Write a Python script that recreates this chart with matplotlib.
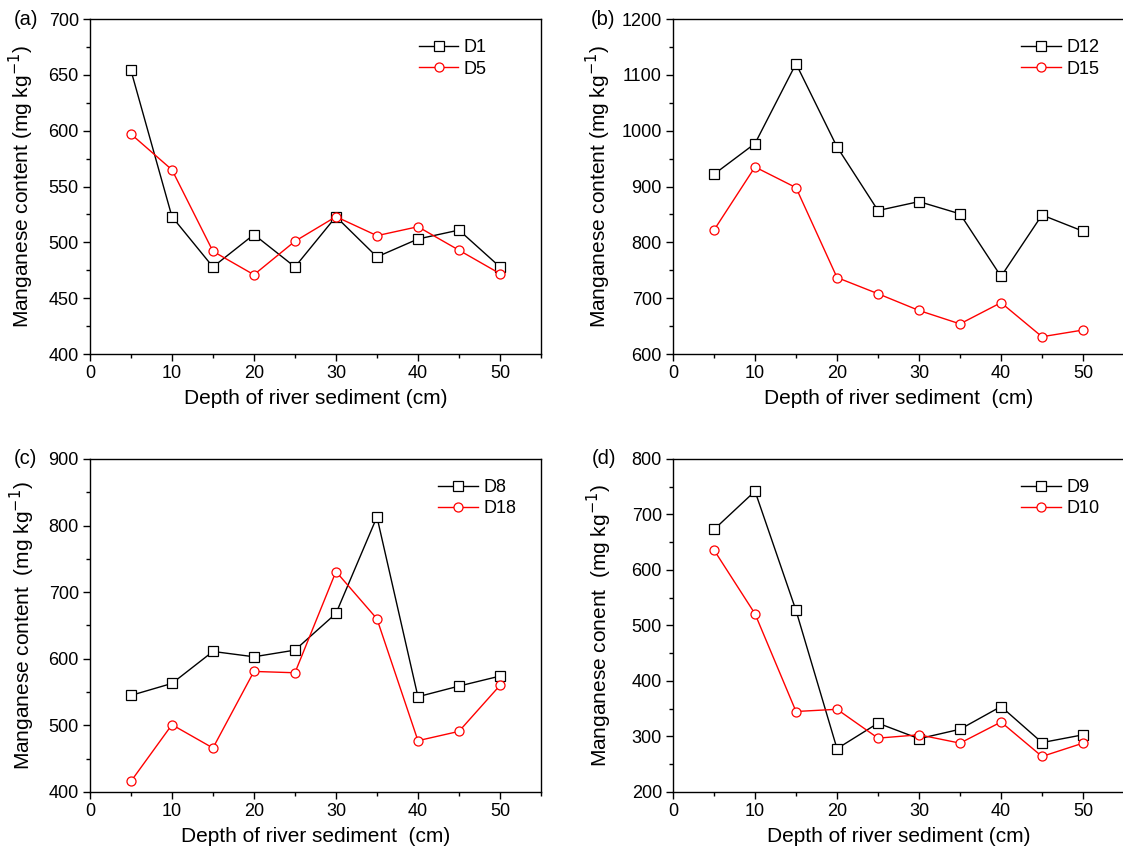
import matplotlib
matplotlib.use("Agg")
import matplotlib.pyplot as plt
from matplotlib.ticker import MultipleLocator

plt.rcParams['font.family'] = ['Liberation Sans', 'DejaVu Sans']

depth = [5, 10, 15, 20, 25, 30, 35, 40, 45, 50]

d1 = [654, 523, 478, 507, 478, 523, 487, 503, 511, 478]
d5 = [597, 565, 492, 471, 501, 523, 506, 514, 493, 472]
d12 = [922, 977, 1120, 971, 857, 873, 851, 739, 849, 820]
d15 = [822, 935, 898, 737, 708, 678, 654, 692, 631, 643]
d8 = [545, 563, 611, 603, 613, 668, 813, 543, 559, 574]
d18 = [416, 501, 466, 581, 579, 731, 660, 477, 491, 560]
d9 = [673, 742, 527, 278, 324, 296, 313, 354, 289, 303]
d10 = [636, 521, 345, 349, 297, 303, 288, 326, 264, 288]

panels = [
    ('(a)', 'D1', d1, 'D5', d5, (400, 700), 50, 25,
     'Manganese content (mg kg$^{-1}$)', 'Depth of river sediment (cm)'),
    ('(b)', 'D12', d12, 'D15', d15, (600, 1200), 100, 50,
     'Manganese content (mg kg$^{-1}$)', 'Depth of river sediment  (cm)'),
    ('(c)', 'D8', d8, 'D18', d18, (400, 900), 100, 50,
     'Manganese content  (mg kg$^{-1}$)', 'Depth of river sediment  (cm)'),
    ('(d)', 'D9', d9, 'D10', d10, (200, 800), 100, 50,
     'Manganese conent  (mg kg$^{-1}$)', 'Depth of river sediment (cm)'),
]

boxes = [
    [0.0801, 0.5864, 0.4016, 0.3914],
    [0.5993, 0.5864, 0.4016, 0.3914],
    [0.0801, 0.0748, 0.4016, 0.3890],
    [0.5993, 0.0748, 0.4016, 0.3890],
]
# legend anchor x, ylabel x, tag x  (axes fraction)
spots = [(0.88, -0.119, -0.168), (0.945, -0.133, -0.182),
         (0.945, -0.117, -0.168), (0.945, -0.131, -0.180)]

fig = plt.figure(figsize=(11.23, 8.56), dpi=100)

for box, p, s in zip(boxes, panels, spots):
    tag, n1, s1, n2, s2, ylim, ymaj, ymin, ylab, xlab = p
    legx, ylx, tagx = s
    ax = fig.add_axes(box)
    ax.plot(depth, s1, color='black', lw=1.0, marker='s', ms=6.5,
            mfc='white', mec='black', mew=0.9, label=n1)
    ax.plot(depth, s2, color='red', lw=1.0, marker='o', ms=6.5,
            mfc='white', mec='red', mew=0.9, label=n2)
    ax.set_xlim(0, 55)
    ax.set_ylim(*ylim)
    ax.xaxis.set_major_locator(MultipleLocator(10))
    ax.xaxis.set_minor_locator(MultipleLocator(5))
    ax.yaxis.set_major_locator(MultipleLocator(ymaj))
    ax.yaxis.set_minor_locator(MultipleLocator(ymin))
    ax.tick_params(which='major', direction='out', length=5, width=1.0,
                   labelsize=13, pad=3, top=False, right=False)
    ax.tick_params(which='minor', direction='out', length=3, width=1.0,
                   top=False, right=False)
    for sp in ax.spines.values():
        sp.set_linewidth(1.0)
    ax.set_ylabel(ylab, fontsize=15)
    ax.yaxis.set_label_coords(ylx, 0.5)
    ax.set_xlabel(xlab, fontsize=15, labelpad=5)
    ax.legend(loc='upper right', frameon=False, fontsize=13,
              handlelength=2.2, handletextpad=0.3, labelspacing=0.25,
              borderpad=0, borderaxespad=0, bbox_to_anchor=(legx, 0.94))
    ax.text(tagx, 1.0, tag, transform=ax.transAxes, fontsize=14.5,
            ha='left', va='center')

fig.savefig('out.png', dpi=100)
